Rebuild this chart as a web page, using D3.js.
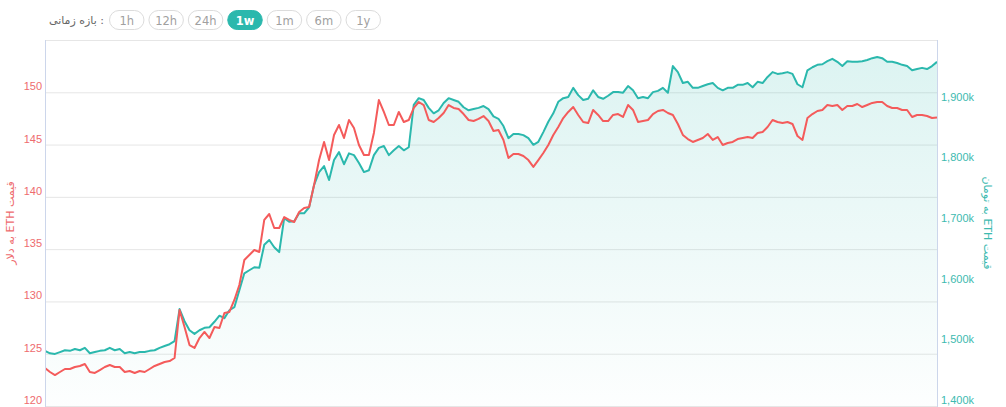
<!DOCTYPE html>
<html><head><meta charset="utf-8">
<script src="https://cdn.jsdelivr.net/npm/d3@7"></script>
<style>
html,body{margin:0;padding:0;background:#fff;overflow:hidden}
svg{display:block}
</style></head><body>
<svg id="chart" width="1006" height="407"></svg>
<script>
const periodLabel = "بازه زمانی :";
const periods = ["1h","12h","24h","1w","1m","6m","1y"];
const activePeriod = "1w";
const usdTitle = "قیمت ETH به دلار";
const tomanTitle = "قیمت ETH به تومان";
const usdTicks = [120,125,130,135,140,145,150,155];
const tomanTicks = [1400,1500,1600,1700,1800,1900];

// ETH price in USD (left axis)
const usdPrice = [
123.63,123.25,122.96,123.25,123.54,123.54,123.73,123.83,124.02,123.25,
123.16,123.44,123.73,123.92,123.73,123.73,123.25,123.35,123.16,123.35,
123.25,123.54,123.83,124.02,124.21,124.30,124.59,129.18,127.55,125.83,
125.55,126.50,127.08,126.50,127.55,127.46,128.89,128.99,130.14,131.57,
133.96,134.44,134.92,134.73,137.79,138.36,137.02,137.02,138.07,137.79,
137.60,138.55,138.93,139.03,141.13,143.52,145.25,143.52,145.92,146.87,
145.63,147.35,146.59,144.96,144.00,144.00,146.11,149.26,148.12,146.87,
146.87,148.12,147.16,147.35,148.50,149.07,148.78,147.35,147.16,147.54,
148.02,148.78,148.50,148.40,147.92,147.35,147.25,147.45,147.73,147.25,
146.30,146.39,145.44,143.72,144.10,144.10,143.91,143.52,142.86,143.52,
144.19,144.96,145.92,146.68,147.54,148.12,148.59,147.83,147.16,147.06,
148.31,147.83,147.25,147.25,147.83,147.92,147.64,148.78,148.31,147.16,
147.25,147.35,147.92,148.21,148.31,148.02,147.83,146.97,145.92,145.53,
145.25,145.44,145.63,146.01,145.44,145.72,144.96,145.15,145.25,145.53,
145.63,145.72,145.63,146.11,146.20,146.68,147.35,147.16,147.06,147.16,
146.97,145.82,145.44,147.54,147.92,148.21,148.31,148.78,148.69,148.78,
148.31,148.69,148.69,148.88,148.59,148.78,148.98,149.07,149.07,148.69,
148.50,148.50,148.31,148.31,147.64,147.83,147.83,147.73,147.54,147.60
];

// ETH price in thousand toman (right axis)
const tomanPrice = [
1474,1470,1469,1472,1475,1474,1477,1475,1479,1470,
1472,1474,1475,1479,1475,1477,1470,1472,1470,1472,
1472,1474,1475,1479,1482,1485,1490,1543,1523,1508,
1502,1508,1512,1513,1522,1532,1528,1541,1546,1574,
1602,1607,1612,1611,1649,1657,1645,1637,1693,1687,
1688,1701,1701,1711,1748,1769,1779,1756,1789,1802,
1782,1800,1797,1784,1769,1772,1797,1809,1812,1797,
1805,1812,1805,1810,1880,1891,1888,1875,1866,1871,
1883,1891,1888,1885,1876,1871,1873,1875,1878,1873,
1861,1857,1845,1825,1832,1832,1830,1825,1814,1819,
1835,1852,1866,1885,1891,1893,1908,1896,1888,1890,
1904,1893,1890,1895,1901,1901,1900,1911,1904,1891,
1893,1891,1901,1903,1908,1900,1944,1934,1916,1918,
1908,1908,1911,1914,1916,1908,1904,1908,1908,1913,
1913,1916,1909,1918,1916,1926,1934,1931,1932,1934,
1931,1914,1909,1937,1942,1946,1947,1952,1956,1951,
1944,1952,1951,1951,1952,1954,1957,1959,1957,1951,
1951,1949,1946,1944,1937,1939,1941,1939,1944,1951
];

const RED = "#f45b5b";
const TEAL = "#2bb8ad";
const LABEL_FONT = "'Liberation Sans', Arial, sans-serif";
const UI_FONT = "Tahoma, 'DejaVu Sans', sans-serif";

const svg = d3.select("#chart");
const W = 1006, H = 407;
const plot = {left: 45, right: 937, top: 40, bottom: 406};

// ---------- period selector ----------
svg.append("text")
  .attr("x", 104).attr("y", 24)
  .attr("text-anchor", "end")
  .attr("font-family", UI_FONT)
  .attr("font-size", 11).attr("fill", "#666")
  .text(periodLabel);

const bx = d3.scaleBand().domain(periods).range([109, 381]).paddingInner(0.1).paddingOuter(0);
const btn = svg.append("g").selectAll("g").data(periods).join("g")
  .attr("transform", d => `translate(${bx(d)},10)`);
btn.append("rect")
  .attr("x", 0.5).attr("y", 0.5)
  .attr("width", bx.bandwidth() - 1).attr("height", 19)
  .attr("rx", 9.5)
  .attr("fill", d => d === activePeriod ? TEAL : "#fff")
  .attr("stroke", d => d === activePeriod ? TEAL : "#dcdcdc");
btn.append("text")
  .attr("x", bx.bandwidth() / 2).attr("y", 14.5)
  .attr("text-anchor", "middle")
  .attr("font-family", UI_FONT)
  .attr("font-size", 11.5)
  .attr("fill", d => d === activePeriod ? "#fff" : "#a0a0a0")
  .attr("font-weight", d => d === activePeriod ? "bold" : "normal")
  .text(d => d);

// ---------- scales ----------
const N = usdPrice.length;
const x = d3.scaleLinear().domain([0, N - 1]).range([plot.left, plot.right]);
const yL = d3.scaleLinear().domain([120, 155]).range([plot.bottom, plot.top]);
const yR = d3.scaleLinear().domain([1383, 1987]).range([plot.bottom, plot.top]);

// ---------- grid + left axis ----------
const gL = svg.append("g").attr("transform", `translate(${plot.left},0)`)
  .call(d3.axisLeft(yL).tickValues(usdTicks)
    .tickSize(-(plot.right - plot.left)).tickPadding(3)
    .tickFormat(d => d === 155 ? "" : d));
gL.select(".domain").remove();
gL.selectAll(".tick line").attr("stroke", "#e6e6e6");
gL.selectAll(".tick text")
  .attr("y", -6)
  .attr("fill", "#ee6b6e")
  .attr("font-family", LABEL_FONT).attr("font-size", 11);

// ---------- area + lines ----------
svg.append("defs").html(`
  <clipPath id="clip"><rect x="${plot.left}" y="${plot.top}" width="${plot.right - plot.left}" height="${plot.bottom - plot.top + 1}"/></clipPath>
  <linearGradient id="areaGrad" gradientUnits="userSpaceOnUse" x1="0" y1="${plot.top}" x2="0" y2="${plot.bottom}">
    <stop offset="0" stop-color="${TEAL}" stop-opacity="0.17"/>
    <stop offset="1" stop-color="${TEAL}" stop-opacity="0.01"/>
  </linearGradient>`);

const gPlot = svg.append("g").attr("clip-path", "url(#clip)");
gPlot.append("path")
  .datum(tomanPrice)
  .attr("fill", "url(#areaGrad)")
  .attr("d", d3.area().x((d, i) => x(i)).y0(plot.bottom).y1(d => yR(d)));
gPlot.append("path")
  .datum(tomanPrice)
  .attr("fill", "none").attr("stroke", TEAL).attr("stroke-width", 2)
  .attr("stroke-linejoin", "round")
  .attr("d", d3.line().x((d, i) => x(i)).y(d => yR(d)));
gPlot.append("path")
  .datum(usdPrice)
  .attr("fill", "none").attr("stroke", RED).attr("stroke-width", 2)
  .attr("stroke-linejoin", "round")
  .attr("d", d3.line().x((d, i) => x(i)).y(d => yL(d)));

// ---------- axis lines ----------
svg.append("line").attr("x1", plot.left + 0.5).attr("x2", plot.left + 0.5)
  .attr("y1", plot.top).attr("y2", H).attr("stroke", "#ccd6eb");

const gR = svg.append("g").attr("transform", `translate(${plot.right},0)`)
  .call(d3.axisRight(yR).tickValues(tomanTicks).tickSize(0).tickPadding(4)
    .tickFormat(d => d3.format(",")(d) + "k"));
gR.select(".domain").attr("stroke", "#ccd6eb").attr("d", `M0.5,${plot.top}V${H}`);
gR.selectAll(".tick text")
  .attr("y", 4)
  .attr("fill", "#3dbab0")
  .attr("font-family", LABEL_FONT).attr("font-size", 11);

// ---------- axis titles ----------
const midY = (plot.top + plot.bottom) / 2;
svg.append("text")
  .attr("transform", `translate(14,${midY}) rotate(-90)`)
  .attr("text-anchor", "middle")
  .attr("font-family", UI_FONT)
  .attr("font-size", 11).attr("fill", "#ee6b6e")
  .text("\u202B" + usdTitle + "\u202C");
svg.append("text")
  .attr("transform", `translate(984,${midY}) rotate(90)`)
  .attr("text-anchor", "middle")
  .attr("font-family", UI_FONT)
  .attr("font-size", 11).attr("fill", "#3dbab0")
  .text("\u202B" + tomanTitle + "\u202C");
</script>
</body></html>
